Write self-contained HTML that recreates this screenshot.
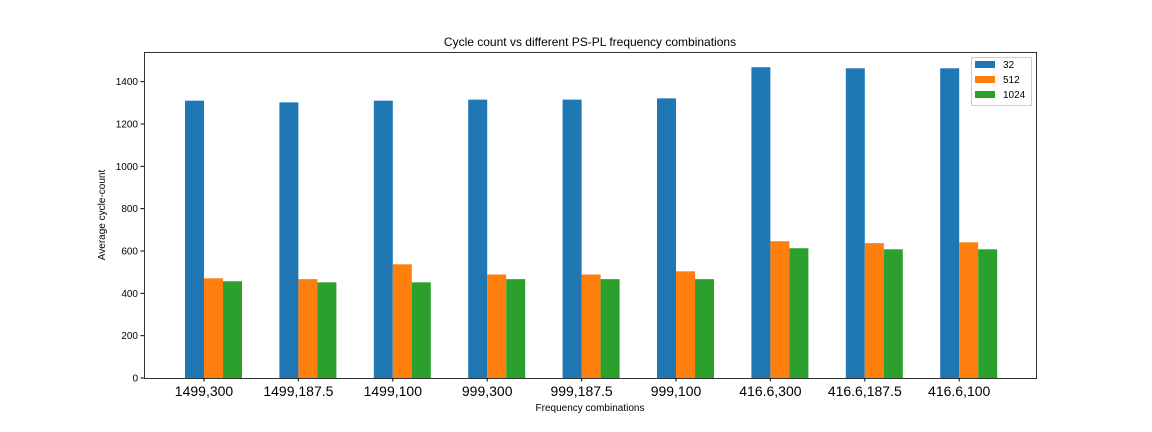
<!DOCTYPE html>
<html><head><meta charset="utf-8"><style>
body{margin:0;background:#fff;}
svg{display:block;font-family:"Liberation Sans","DejaVu Sans",sans-serif;}
</style></head><body>
<svg id="chart" width="1152" height="432" viewBox="0 0 1152 432">
<rect x="0" y="0" width="1152" height="432" fill="#fff"/>
<text x="590" y="46" text-anchor="middle" font-size="12">Cycle count vs different PS-PL frequency combinations</text>
<g id="bars"></g>
<g id="axes"></g>
<text x="590" y="411" text-anchor="middle" font-size="10">Frequency combinations</text>
<text transform="translate(105,215) rotate(-90)" text-anchor="middle" font-size="10">Average cycle-count</text>
<g>
<rect x="971.5" y="57.5" width="60" height="48" fill="#fff" stroke="#ccc"/>
<rect x="975" y="61" width="20" height="7" fill="#1f77b4"/>
<text x="1003" y="68" font-size="10">32</text>
<rect x="975" y="76" width="20" height="7" fill="#ff7f0e"/>
<text x="1003" y="83" font-size="10">512</text>
<rect x="975" y="91" width="20" height="7" fill="#2ca02c"/>
<text x="1003" y="98" font-size="10">1024</text>
</g>
</svg>
<script>
const categories=["1499,300","1499,187.5","1499,100","999,300","999,187.5","999,100","416.6,300","416.6,187.5","416.6,100"];
const series32=[1310,1302,1310,1315,1315,1321,1468,1463,1463];
const series512=[471,467,537,489,489,504,646,637,641];
const series1024=[457,452,452,467,467,467,613,608,608];
const yTicks=[0,200,400,600,800,1000,1200,1400];
const seriesNames=["32","512","1024"];

const NS="http://www.w3.org/2000/svg";
const L=144,R=1036,T=52,B=378;
const yMax=1540;
function y(v){return B-v/yMax*(B-T);}
const step=94.4,bw=19,x0=185;
function xTick(i){return x0+bw+i*step;}
const colors=["#1f77b4","#ff7f0e","#2ca02c"];
const all=[series32,series512,series1024];
const gb=document.getElementById('bars');
all.forEach((s,k)=>{
  s.forEach((v,i)=>{
    const r=document.createElementNS(NS,'rect');
    
    
    const bx=xTick(i)-bw+k*bw;
    r.setAttribute('x',bx);r.setAttribute('width',bw);
    r.setAttribute('y',y(v));r.setAttribute('height',B-y(v));
    r.setAttribute('fill',colors[k]);
    gb.appendChild(r);
  });
});
const ga=document.getElementById('axes');
const fr=document.createElementNS(NS,'rect');


fr.setAttribute('x',L+0.5);fr.setAttribute('y',T+0.5);fr.setAttribute('width',R-L);fr.setAttribute('height',B-T);
fr.setAttribute('fill','none');fr.setAttribute('stroke','#000');fr.setAttribute('stroke-width','0.8');
ga.appendChild(fr);
yTicks.forEach(t=>{
  const ln=document.createElementNS(NS,'line');
  
  
  ln.setAttribute('x1',L-3.5);ln.setAttribute('x2',L);ln.setAttribute('y1',y(t));ln.setAttribute('y2',y(t));
  ln.setAttribute('stroke','#000');ga.appendChild(ln);
  const tx=document.createElementNS(NS,'text');
  
  
  tx.setAttribute('x',L-6);tx.setAttribute('y',y(t)+3.5);tx.setAttribute('text-anchor','end');tx.setAttribute('font-size','10');
  tx.textContent=t;ga.appendChild(tx);
});
categories.forEach((c,i)=>{
  const ln=document.createElementNS(NS,'line');
  
  
  ln.setAttribute('x1',xTick(i));ln.setAttribute('x2',xTick(i));ln.setAttribute('y1',B);ln.setAttribute('y2',B+3.5);
  ln.setAttribute('stroke','#000');ga.appendChild(ln);
  const tx=document.createElementNS(NS,'text');
  
  
  tx.setAttribute('x',xTick(i));tx.setAttribute('y',B+18);tx.setAttribute('text-anchor','middle');tx.setAttribute('font-size','14');
  tx.textContent=c;ga.appendChild(tx);
});
</script>
</body></html>
